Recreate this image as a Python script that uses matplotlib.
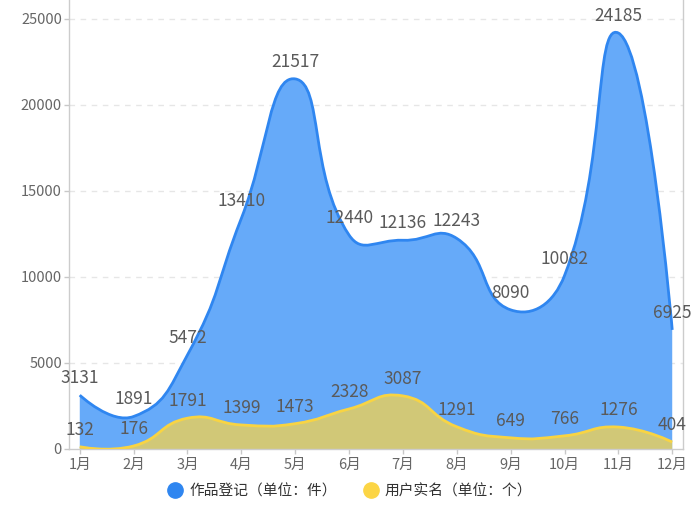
import numpy as np
import matplotlib
matplotlib.use("Agg")
import matplotlib.pyplot as plt
from matplotlib.path import Path
from matplotlib.patches import PathPatch
from matplotlib.lines import Line2D

plt.rcParams['font.family'] = ['Noto Sans CJK SC', 'DejaVu Sans']

months = ['1月', '2月', '3月', '4月', '5月', '6月', '7月', '8月', '9月', '10月', '11月', '12月']
works = [3131, 1891, 5472, 13410, 21517, 12440, 12136, 12243, 8090, 10082, 24185, 6925]
users = [132, 176, 1791, 1399, 1473, 2328, 3087, 1291, 649, 766, 1276, 404]
series_names = ['作品登记（单位：件）', '用户实名（单位：个）']
yticks = [0, 5000, 10000, 15000, 20000, 25000]

blue_line = '#2f86f0'
blue_fill = '#66aaf9'
yellow_line = '#f8d443'
yellow_fill = '#fcd545'

W, H = 700, 505
fig = plt.figure(figsize=(W / 100, H / 100), dpi=100)
ax = fig.add_axes([69 / W, 56 / H, 614 / W, 449 / H])
ax.set_xlim(-0.2, 11.2)
ax.set_ylim(0, 25000 * 449 / 430)

x = np.arange(len(months))


def smooth_paths(xs, ys, smooth=0.5):
    # echarts style bezier smoothing, worked out in pixel space
    pts = ax.transData.transform(np.column_stack([xs, ys]))
    n = len(pts)
    cps = []
    for i in range(n):
        p = pts[i]
        if i == 0 or i == n - 1:
            cps.append(p.copy())
            continue
        prev, nxt = pts[i - 1], pts[i + 1]
        v = (nxt - prev) * smooth
        d0 = np.hypot(*(p - prev))
        d1 = np.hypot(*(nxt - p))
        s = d0 + d1
        if s:
            d0, d1 = d0 / s, d1 / s
        cps.append(p - v * d0)
        cps.append(p + v * d1)
    verts = [pts[0]]
    codes = [Path.MOVETO]
    for i in range(n - 1):
        verts += [cps[2 * i], cps[2 * i + 1], pts[i + 1]]
        codes += [Path.CURVE4] * 3
    verts = ax.transData.inverted().transform(np.array(verts))
    line = Path(verts, codes)
    area_verts = np.vstack([verts, [[xs[-1], 0], [xs[0], 0], [xs[0], 0]]])
    area_codes = codes + [Path.LINETO, Path.LINETO, Path.CLOSEPOLY]
    return line, Path(area_verts, area_codes)


for vals, lc, fc, alpha in [(works, blue_line, blue_fill, 1.0),
                            (users, yellow_line, yellow_fill, 0.72)]:
    line, area = smooth_paths(x, vals)
    ax.add_patch(PathPatch(area, facecolor=fc, edgecolor='none', alpha=alpha, zorder=2))
    ax.add_patch(PathPatch(line, facecolor='none', edgecolor=lc, lw=2, zorder=3))

for vals in [works, users]:
    for xi, v in zip(x, vals):
        ax.annotate(str(v), (xi, v), xytext=(0, 17), textcoords='offset pixels',
                    ha='center', va='center', fontsize=12.5, color='#5a5a5a',
                    zorder=5, annotation_clip=False)

ax.set_xticks(x)
ax.set_xticklabels(months)
ax.set_yticks(yticks)
ax.tick_params(axis='both', colors='#c8c8c8', labelcolor='#666666', labelsize=10.5,
               length=3.6, width=1)
ax.tick_params(axis='y', pad=1.5)
ax.tick_params(axis='x', pad=3)

for y in yticks[1:]:
    ax.axhline(y, color='#e6e6e6', lw=1, ls=(0, (4, 4)), zorder=1)

ax.spines['top'].set_visible(False)
for s in ['left', 'right', 'bottom']:
    ax.spines[s].set_color('#cccccc')
    ax.spines[s].set_linewidth(1)

handles = [Line2D([], [], marker='o', ls='none', markersize=11, color=blue_line),
           Line2D([], [], marker='o', ls='none', markersize=11, color=yellow_fill)]
fig.legend(handles, series_names, loc='center', bbox_to_anchor=(0.5, 13.5 / H),
           ncol=2, frameon=False, fontsize=10.6, handlelength=1.0, handletextpad=0.45,
           columnspacing=1.8, labelcolor='#333333')

fig.savefig('out.png', dpi=100)
